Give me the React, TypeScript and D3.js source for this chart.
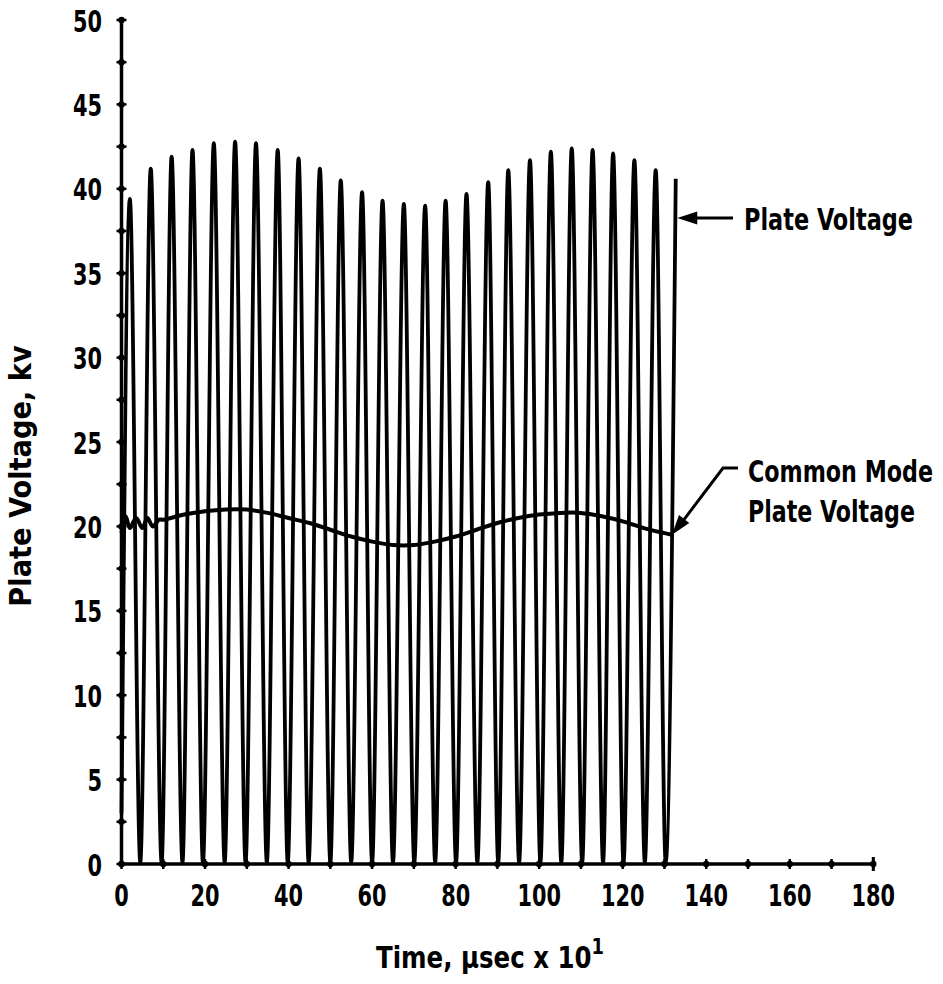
import React, { useLayoutEffect, useRef, useState } from "react";
import * as d3 from "d3";

// ---- data ----
const PEAK_T = [2.0, 7.0, 12.0, 17.0, 22.1, 27.2, 32.2, 37.4, 42.4, 47.5, 52.5, 57.6, 62.5, 67.6, 72.7, 77.6, 82.6, 87.8, 92.6, 97.8, 102.8, 107.8, 112.8, 117.7, 122.8, 127.9, 132.7];
const PEAK_V = [39.4, 41.2, 41.9, 42.3, 42.7, 42.8, 42.7, 42.3, 41.8, 41.2, 40.5, 39.8, 39.3, 39.1, 39.0, 39.3, 39.7, 40.4, 41.1, 41.7, 42.2, 42.4, 42.3, 42.1, 41.7, 41.1, 40.6];
const TROUGH_T = [0.0, 4.5, 9.6, 14.6, 19.5, 24.7, 29.7, 34.8, 39.8, 44.8, 50.0, 55.0, 60.0, 65.0, 70.1, 75.1, 80.1, 85.2, 90.2, 95.2, 100.3, 105.3, 110.3, 115.3, 120.2, 125.3, 130.3];
const TROUGH_V = [3.0, 0.1, 0.1, 0.1, 0.1, 0.1, 0.1, 0.1, 0.1, 0.1, 0.1, 0.1, 0.1, 0.1, 0.1, 0.1, 0.1, 0.1, 0.1, 0.1, 0.1, 0.1, 0.1, 0.1, 0.1, 0.1, 0.1];

const CM_T = [0, 1, 2, 3.5, 5, 6.2, 7.5, 9, 10, 15, 20, 25, 30, 35, 40, 45, 50, 55, 60, 65, 70, 75, 80, 85, 90, 95, 100, 105, 110, 115, 120, 125, 130, 131.8];
const CM_V = [19.6, 20.6, 19.9, 20.5, 19.9, 20.5, 20.0, 20.4, 20.4, 20.7, 20.9, 21.0, 21.0, 20.8, 20.5, 20.2, 19.8, 19.4, 19.1, 18.9, 18.9, 19.1, 19.4, 19.8, 20.2, 20.5, 20.7, 20.8, 20.8, 20.6, 20.3, 19.9, 19.6, 19.5];

const Y_TICKS_MAJOR = [0, 5, 10, 15, 20, 25, 30, 35, 40, 45, 50];
const Y_TICKS_MINOR = [2.5, 7.5, 12.5, 17.5, 22.5, 27.5, 32.5, 37.5, 42.5, 47.5];
const X_TICKS_MAJOR = [0, 20, 40, 60, 80, 100, 120, 140, 160, 180];
const X_TICKS_MINOR = [10, 30, 50, 70, 90, 110, 130, 150, 170];

const Y_TITLE = "Plate Voltage,  kv";
const X_TITLE = "Time,  \u03bcsec x 10";
const X_TITLE_SUP = "1";
const LABEL_PLATE = "Plate Voltage";
const LABEL_CM1 = "Common Mode";
const LABEL_CM2 = "Plate Voltage";

const FONT = "'Liberation Sans Narrow','DejaVu Sans Condensed','Liberation Sans',Arial,sans-serif";

type FitProps = {
  x: number; y: number; width: number; fontSize: number;
  anchor?: "start" | "middle" | "end"; rotate?: number; children: React.ReactNode;
};

function FitText({ x, y, width, fontSize, anchor = "start", rotate = 0, children }: FitProps) {
  const ref = useRef<SVGTextElement>(null);
  const [s, setS] = useState(0.8);
  useLayoutEffect(() => {
    if (ref.current) {
      const w = ref.current.getBBox().width;
      if (w > 0) setS(width / w);
    }
  }, [width]);
  return (
    <g transform={`translate(${x},${y}) rotate(${rotate})`}>
      <text ref={ref} x={0} y={0} transform={`scale(${s},1)`} textAnchor={anchor} fontFamily={FONT}
        fontWeight="bold" fontSize={fontSize}>{children}</text>
    </g>
  );
}

export default function App() {
  const W = 943, H = 984;
  const x = d3.scaleLinear().domain([0, 180]).range([121.5, 873.3]);
  const y = d3.scaleLinear().domain([0, 50]).range([864, 20]);

  const wave: [number, number][] = [
    ...PEAK_T.map((t, i) => [t, PEAK_V[i]] as [number, number]),
    ...TROUGH_T.map((t, i) => [t, TROUGH_V[i]] as [number, number]),
  ].sort((a, b) => a[0] - b[0]);

  const line = d3.line<[number, number]>()
    .x(d => x(d[0]))
    .y(d => y(d[1]))
    .curve(d3.curveMonotoneX);

  const cm: [number, number][] = CM_T.map((t, i) => [t, CM_V[i]]);
  const cmLine = d3.line<[number, number]>()
    .x(d => x(d[0]))
    .y(d => y(d[1]))
    .curve(d3.curveCatmullRom);

  const x0 = x(0), y0 = y(0);
  const digitW = 14.5;

  const arrowHead = (tx: number, ty: number, fx: number, fy: number, len = 20, half = 6.5) => {
    const a = Math.atan2(ty - fy, tx - fx);
    const bx = tx - len * Math.cos(a), by = ty - len * Math.sin(a);
    const px = -Math.sin(a) * half, py = Math.cos(a) * half;
    return `M${tx},${ty}L${bx + px},${by + py}L${bx - px},${by - py}Z`;
  };

  const pvTipX = x(PEAK_T[PEAK_T.length - 1]) + 1.5, pvTipY = 218;
  const cmTip: [number, number] = [x(CM_T[CM_T.length - 1]), y(CM_V[CM_V.length - 1])];

  return (
    <svg width={W} height={H} style={{ position: "absolute", left: 0, top: 0, background: "#fff" }}>
      <rect width={W} height={H} fill="#fff" />
      {/* waveform */}
      <path d={line(wave) || ""} fill="none" stroke="#000" strokeWidth={3.8} strokeLinejoin="round" />
      {/* common mode */}
      <path d={cmLine(cm) || ""} fill="none" stroke="#000" strokeWidth={4} />

      {/* y axis */}
      <line x1={x0} x2={x0} y1={y0} y2={y(50)} stroke="#000" strokeWidth={3.5} />
      {[...Y_TICKS_MAJOR, ...Y_TICKS_MINOR].map(v => (
        <g key={"yt" + v}>
          <line x1={x0 - 5} x2={x0 + 5} y1={y(v)} y2={y(v)} stroke="#000" strokeWidth={2.5} />
          <circle cx={x0} cy={y(v)} r={3.2} fill="#000" />
        </g>
      ))}
      {Y_TICKS_MAJOR.map(v => {
        const s = String(v);
        return (
          <text key={"yl" + v} x={102} y={y(v) + 11.5} textAnchor="end" fontFamily={FONT} fontWeight="bold" fontSize={31}
            textLength={s.length * digitW} lengthAdjust="spacingAndGlyphs">{s}</text>
        );
      })}

      {/* x axis */}
      <line x1={x0} x2={x(180)} y1={y0} y2={y0} stroke="#000" strokeWidth={3.5} />
      {[...X_TICKS_MAJOR, ...X_TICKS_MINOR].map(v => (
        <g key={"xt" + v}>
          <line x1={x(v)} x2={x(v)} y1={y0 - 5} y2={y0 + 5} stroke="#000" strokeWidth={2.5} />
          <circle cx={x(v)} cy={y0} r={3.2} fill="#000" />
        </g>
      ))}
      <line x1={x(180)} x2={x(180)} y1={y0 - 7} y2={y0 + 7} stroke="#000" strokeWidth={3} />
      {X_TICKS_MAJOR.map(v => {
        const s = String(v);
        return (
          <text key={"xl" + v} x={x(v)} y={906} textAnchor="middle" fontFamily={FONT} fontWeight="bold" fontSize={31}
            textLength={s.length * digitW} lengthAdjust="spacingAndGlyphs">{s}</text>
        );
      })}

      {/* axis titles */}
      <FitText x={31} y={476} rotate={-90} anchor="middle" fontSize={31} width={262}>{Y_TITLE}</FitText>
      <FitText x={376} y={968} fontSize={30} width={228}>
        {X_TITLE}
        <tspan dy={-14} fontSize={22}>{X_TITLE_SUP}</tspan>
      </FitText>

      {/* annotation: plate voltage */}
      <line x1={pvTipX + 10} x2={733} y1={pvTipY} y2={pvTipY} stroke="#000" strokeWidth={3} />
      <path d={arrowHead(pvTipX, pvTipY, 733, pvTipY)} fill="#000" />
      <FitText x={744} y={230} fontSize={31} width={169}>{LABEL_PLATE}</FitText>

      {/* annotation: common mode */}
      <polyline points={`${cmTip[0] + 8},${cmTip[1] - 10} 723,468 738,468`} fill="none" stroke="#000" strokeWidth={3} />
      <path d={arrowHead(cmTip[0], cmTip[1], 723, 468)} fill="#000" />
      <FitText x={748} y={482} fontSize={31} width={185}>{LABEL_CM1}</FitText>
      <FitText x={748} y={522} fontSize={31} width={167}>{LABEL_CM2}</FitText>
    </svg>
  );
}
